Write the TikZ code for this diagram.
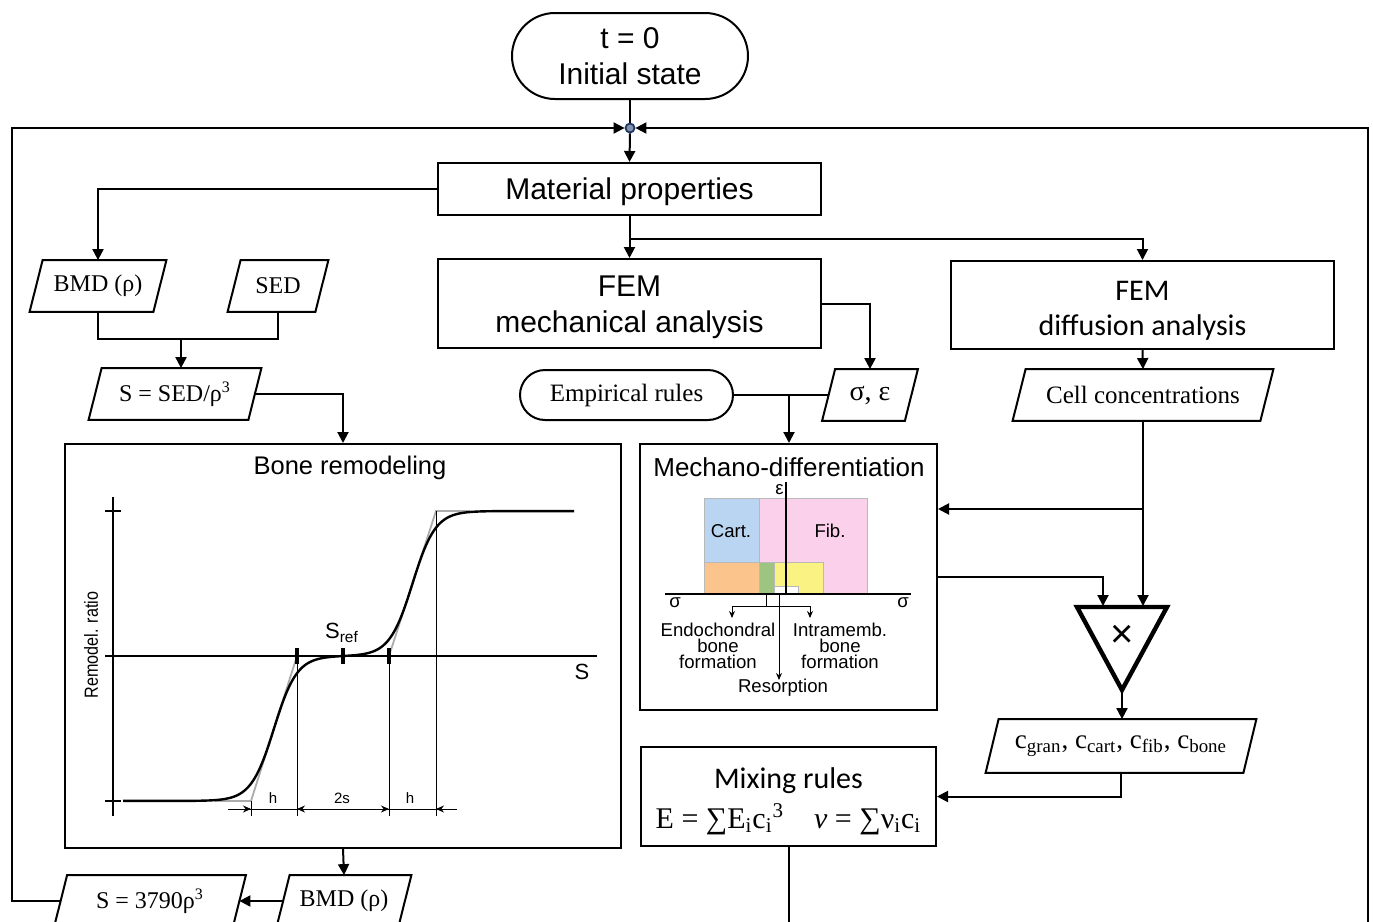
\documentclass[tikz,border=0pt]{standalone}
\usepackage{fontspec}
\setmainfont{Liberation Serif}
\setsansfont{Liberation Sans}
\newfontfamily\calfont{Carlito}
\newfontfamily\narrowsans[FakeStretch=0.85]{Liberation Sans}
\usetikzlibrary{shapes.geometric,shapes.misc,arrows.meta,calc}
\newcommand\fsz[2]{\fontsize{#1pt}{#2pt}\selectfont}
\definecolor{cblue}{RGB}{186,213,242}
\definecolor{cpink}{RGB}{250,208,234}
\definecolor{corange}{RGB}{250,196,140}
\definecolor{cgreen}{RGB}{157,196,128}
\definecolor{cyellow}{RGB}{250,242,130}
\definecolor{navy}{RGB}{31,56,100}
\tikzset{
  box/.style={draw, line width=1pt, rectangle, inner sep=0pt, align=center},
  txt/.style={inner sep=0pt, align=center},
  stad/.style={draw, line width=1pt, rounded rectangle, inner sep=0pt, align=center},
  parabase/.style={rectangle, inner sep=0pt, minimum height=25.5pt, font=\rmfamily\fsz{12}{14}},
  paraline/.style={line width=1pt, line join=miter},
  arr/.style={line width=1pt, -{Triangle[length=5.5pt,width=5.5pt]}},
  ln/.style={line width=1pt},
  dimarr/.style={line width=0.5pt, -{Stealth[length=4pt,width=3.5pt]}},
  small/.style={font=\sffamily\fsz{9.3}{8}, align=center, inner sep=0pt},
}
% parallelogram: name, position, total width, extra options, text
\newcommand\paranode[5]{%
  \node[parabase, minimum width=#3, #4] (#1) at (#2) {#5};
  \draw[paraline] (#1.south west) -- ($(#1.north west)+(13,0)$) -- (#1.north east)
    -- ($(#1.south east)+(-13,0)$) -- cycle;}
\begin{document}
\begin{tikzpicture}[x=0.5pt, y=-0.5pt]
\useasboundingbox (0,0) rectangle (1373,922);
\fill[white] (0,0) rectangle (1373,922);
\clip (0,0) rectangle (1373,922);

% ---------- main nodes ----------
\node[stad, minimum width=118pt, minimum height=43pt, font=\sffamily\fsz{15}{18}] (start) at (630,56) {t = 0\\Initial state};
\node[circle, draw=navy, fill=navy!55, line width=0.9pt, inner sep=0pt, minimum size=4.5pt] (jn) at (630,128) {};
\node[box, minimum width=191.5pt, minimum height=26pt, text depth=0pt, font=\sffamily\fsz{15}{18}] (matprop) at (629.5,189) {Material properties};
\node[box, minimum width=191.5pt, minimum height=44.5pt] (femmech) at (629.5,303.5) {};
\node[txt, font=\sffamily\fsz{15}{18}] (femmechtxt) at (629.5,307.5) {FEM\\mechanical analysis};
\node[box, minimum width=191.5pt, minimum height=44pt] (femdiff) at (1142.5,305) {};
\node[txt, font=\calfont\fsz{15}{17.5}] (femdifftxt) at (1142.5,311) {FEM\\diffusion analysis};

\paranode{bmd1}{98,286}{68pt}{}{BMD (ρ)}
\paranode{sed}{278,286}{50pt}{}{SED}
\paranode{s1}{175,394}{86pt}{}{S = SED/ρ\textsuperscript{3}}

\node[stad, minimum width=106.5pt, minimum height=25pt, font=\rmfamily\fsz{12.5}{14}] (emp) at (626.5,395) {Empirical rules};
\paranode{sigeps}{870,395}{47.5pt}{font=\rmfamily\fsz{14}{14}}{σ, ε}
\paranode{cell}{1143,395}{130pt}{font=\rmfamily\fsz{12.5}{14}}{Cell concentrations}

\node[box, minimum width=278pt, minimum height=202pt] (bone) at (343,646) {};
\node[box, minimum width=148.5pt, minimum height=133pt] (mech) at (788.5,577) {};
\node[box, minimum width=147.5pt, minimum height=49.5pt] (mix) at (788.5,796.5) {};
\node[txt, font=\fsz{15}{20}] (mixtxt) at (788.5,801)
  {{\calfont Mixing rules}\\{\rmfamily E = ∑E\textsubscript{i}c\textsubscript{i}\textsuperscript{3}\quad \textit{ν} = ∑ν\textsubscript{i}c\textsubscript{i}}};

\paranode{cpar}{1121,746}{135pt}{minimum height=26.5pt, font=\rmfamily\fsz{13.5}{14}}
  {c\textsubscript{gran}, c\textsubscript{cart}, c\textsubscript{fib}, c\textsubscript{bone}}

\paranode{bmd2}{344,901}{67pt}{}{BMD (ρ)}
\paranode{s3790}{150,901}{95.5pt}{}{S = 3790ρ\textsuperscript{3}}

% multiplier triangle
\draw[line width=2.2pt, line join=miter] (1077,607) -- (1167,607) -- (1122,690) -- cycle;
\node[font=\sffamily\fsz{20}{20}, inner sep=0pt] (mult) at (1122,636) {×};
\coordinate (multA) at (1103,606);
\coordinate (multB) at (1143,606);
\coordinate (multV) at (1122,691);

% corners
\coordinate (cTL) at (12,128);
\coordinate (cTR) at (1368,128);
\coordinate (cBR) at (1368,940);
\coordinate (j1) at (181,339);
\coordinate (j2) at (789,395);
\coordinate (j3) at (1143,509);

% ---------- connectors ----------
\draw[ln] (start.south) -- (jn.north);
\draw[arr] (jn.south) -- (matprop.north);
\draw[arr] ($(s3790.west)+(6.5,0)$) -| (cTL) -- (jn.west);
\draw[arr] (cBR) -- (cTR) -- (jn.east);
\draw[arr] (matprop.west) -| (bmd1.north);
\draw[arr] (matprop.south) -- (femmech.north);
\draw[arr] (matprop.south) -- ++(0,23) -| (femdiff.north);
\draw[ln] (bmd1.south) |- (j1) -| (sed.south);
\draw[arr] (j1) -- (j1 |- s1.north);
\draw[arr] ($(s1.east)+(-6.5,0)$) -| (bone.north);
\draw[arr] (femmech.east) -| (sigeps.north);
\draw[ln] (emp.east) -- ($(sigeps.west)+(6.5,0)$);
\draw[arr] (j2) -- (j2 |- mech.north);
\draw[arr] (femdiff.south) -- (cell.north);
\draw[arr] (cell.south) -- (multB);
\draw[arr] (j3) -- (j3 -| mech.east);
\draw[arr] (mech.east) -| (multA);
\draw[arr] (multV) -- (multV |- cpar.north);
\draw[arr] (cpar.south) |- (mix.east);
\draw[ln] (mix.south) -- (mix.south |- cBR);
\draw[arr] (bone.south) -- (bmd2.north);
\draw[arr] ($(bmd2.west)+(6.5,0)$) -- ($(s3790.east)+(-6.5,0)$);

% ---------- bone remodeling plot ----------
\node[font=\sffamily\fsz{12.75}{14}, inner sep=0pt] (bonetitle) at (350,468) {Bone remodeling};
\draw[gray!65, line width=0.9pt] (215,801) -- (251,801) -- (297,656) -- (389,656) -- (436,511) -- (470,511);
\draw[line width=0.5pt] (251,801) -- (251,816) (297,656) -- (297,816) (389,656) -- (389,816) (436,511) -- (436,816);
\draw[line width=1.3pt] (113,497) -- (113,816);
\draw[line width=1.3pt] (107,656) -- (597,656);
\foreach \yy in {511,656,801} \draw[line width=1.3pt] (105,\yy) -- (121,\yy);
\foreach \xx in {297,343,389} \draw[line width=1.6pt] (\xx,648) -- (\xx,664);
\draw[line width=1.2pt] plot[domain=123:574, samples=220, smooth]
  (\x,{656-72.5*tanh(max(-4,min(4,(\x-274)/23)))-72.5*tanh(max(-4,min(4,(\x-412.5)/23)))});
\draw[line width=0.5pt] (228,809) -- (457,809);
\draw[dimarr] (228,809) -- (251,809);
\draw[dimarr] (343,809) -- (297,809);
\draw[dimarr] (343,809) -- (389,809);
\draw[dimarr] (457,809) -- (436,809);
\node[font=\sffamily\fsz{7.5}{8}, inner sep=0pt] (lh1) at (273,798) {h};
\node[font=\sffamily\fsz{7.5}{8}, inner sep=0pt] (l2s) at (342,798) {2s};
\node[font=\sffamily\fsz{7.5}{8}, inner sep=0pt] (lh2) at (410,798) {h};
\node[font=\sffamily\fsz{11}{12}, inner sep=0pt] (lS) at (582,672) {S};
\node[font=\sffamily\fsz{11}{12}, inner sep=0pt] (lSref) at (342,633) {S\textsubscript{ref}};
\node[font=\narrowsans\fsz{9.5}{10}, inner sep=0pt, rotate=90] (lratio) at (91,645) {Remodel. ratio};

% ---------- mechano-differentiation ----------
\node[font=\sffamily\fsz{13}{14}, inner sep=0pt] (mechtitle) at (789,467) {Mechano-differentiation};
\begin{scope}[draw=gray!55, line width=0.4pt]
\filldraw[fill=cpink] (759,498) rectangle (867,594);
\filldraw[fill=cblue] (704,498) rectangle (759,562);
\filldraw[fill=corange] (704,562) rectangle (759,594);
\filldraw[fill=cgreen] (759,562) rectangle (774,594);
\filldraw[fill=cyellow] (774,562) rectangle (823,594);
\filldraw[fill=white] (774,586) rectangle (798,594);
\end{scope}
\draw[line width=0.7pt] (786,482) -- (786,594);
\draw[line width=0.7pt] (665,594) -- (911,594);
\node[small, anchor=east] (leps) at (784,490) {ε};
\node[small] (lsig1) at (675,603) {σ};
\node[small] (lsig2) at (903,603) {σ};
\node[small] (lcart) at (731,531) {Cart.};
\node[small] (lfib) at (830,531) {Fib.};
\draw[line width=0.5pt] (732,606) -- (810,606) (766,595) -- (766,606);
\draw[line width=0.5pt, -{Stealth[length=3.5pt,width=3pt]}] (732,606) -- (732,618);
\draw[line width=0.5pt, -{Stealth[length=3.5pt,width=3pt]}] (810,606) -- (810,618);
\draw[line width=0.5pt, -{Stealth[length=3.5pt,width=3pt]}] (779,595) -- (779,680);
\node[small] (lendo) at (718,646) {Endochondral\\bone\\formation};
\node[small] (lintra) at (840,646) {Intramemb.\\bone\\formation};
\node[small] (lres) at (783,688) {Resorption};
\end{tikzpicture}
\end{document}
